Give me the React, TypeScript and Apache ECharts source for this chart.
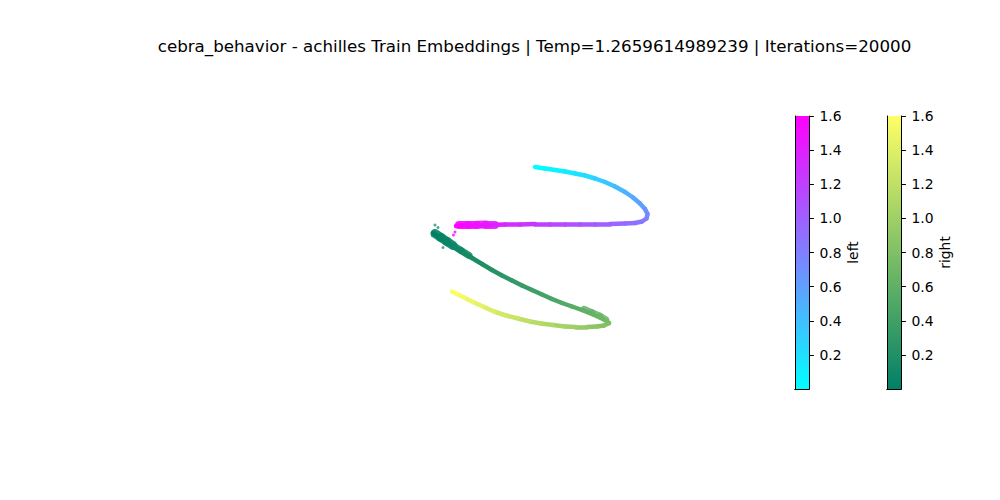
import React, { useEffect, useRef } from "react";
import * as echarts from "echarts";

const TITLE =
  "cebra_behavior - achilles Train Embeddings | Temp=1.2659614989239 | Iterations=20000";

const COLORBAR_MIN = 0;
const COLORBAR_MAX = 1.6;
const COLORBAR_TICKS = [0.2, 0.4, 0.6, 0.8, 1.0, 1.2, 1.4, 1.6];
const LEFT_LABEL = "left";
const RIGHT_LABEL = "right";

// "left" trajectory (projected embedding), coloured by position (cool colormap)
const leftX = [535, 545, 555, 565, 575, 585, 595, 605, 615, 625, 633, 640, 645, 647.5, 646.5, 642, 635, 625, 610, 595, 580, 565, 550, 535, 520, 505, 490, 478, 468, 460, 456];
const leftY = [167, 168.5, 170, 171.5, 173.5, 175.5, 178.5, 182, 186.5, 192, 197.5, 203.5, 209, 214, 218.5, 221.5, 223, 223.5, 224, 224, 224, 224, 224, 224, 224.5, 224.5, 225, 225, 225, 225.5, 226];
const leftValue = [0.0, 0.03, 0.07, 0.11, 0.16, 0.21, 0.27, 0.33, 0.4, 0.46, 0.52, 0.58, 0.64, 0.7, 0.77, 0.84, 0.88, 0.92, 0.98, 1.03, 1.07, 1.12, 1.17, 1.22, 1.28, 1.35, 1.42, 1.48, 1.53, 1.57, 1.6];

// "right" trajectory, coloured by position (summer colormap)
const rightX = [433, 440, 447, 455, 463, 472, 482, 492, 502, 512, 522, 532, 542, 552, 562, 572, 582, 592, 600, 606, 609, 604, 597, 587, 576, 565, 553, 541, 530, 518, 506, 494, 483, 473, 464, 457, 452];
const rightY = [233, 237.5, 242, 247.5, 252.5, 258, 264, 270, 275.5, 280.5, 285.5, 290, 294.5, 299, 303, 306.5, 310, 314, 317.5, 320.5, 323, 325.5, 326.5, 327, 327, 326.5, 325, 323.5, 321.5, 318.5, 315.5, 311.5, 306.5, 302, 297.5, 294, 291.5];
const rightValue = [0.0, 0.02, 0.05, 0.08, 0.11, 0.14, 0.18, 0.22, 0.26, 0.3, 0.34, 0.38, 0.42, 0.46, 0.5, 0.54, 0.58, 0.62, 0.66, 0.7, 0.75, 0.81, 0.86, 0.91, 0.97, 1.02, 1.07, 1.12, 1.17, 1.23, 1.29, 1.35, 1.41, 1.46, 1.51, 1.56, 1.6];

// denser (wider) stretches of the point clouds
const leftDenseX = [459, 468, 477, 486, 495];
const leftDenseY = [225.2, 225, 224.8, 224.6, 224.5];
const leftDenseValue = [1.6, 1.55, 1.5, 1.45, 1.4];

const rightDenseX = [435, 441, 447, 453];
const rightDenseY = [233.5, 237.5, 241.5, 245.5];
const rightDenseValue = [0.0, 0.02, 0.05, 0.07];

const rightDense2X = [453, 461, 469];
const rightDense2Y = [245.5, 250.5, 255.5];
const rightDense2Value = [0.07, 0.1, 0.13];

const rightTipX = [584, 592, 600, 606];
const rightTipY = [309, 312.5, 316, 319.5];
const rightTipValue = [0.58, 0.62, 0.66, 0.7];

// stray points
const leftStrayX = [455, 453.5];
const leftStrayY = [232, 235];
const leftStrayValue = [1.6, 1.6];
const rightStrayX = [435, 438, 443];
const rightStrayY = [225, 227.5, 247.5];
const rightStrayValue = [0.0, 0.01, 0.05];

const FONT = "DejaVu Sans";

function cool(v: number): string {
  const t = Math.max(0, Math.min(1, (v - COLORBAR_MIN) / (COLORBAR_MAX - COLORBAR_MIN)));
  return `rgb(${Math.round(255 * t)},${Math.round(255 * (1 - t))},255)`;
}
function summer(v: number): string {
  const t = Math.max(0, Math.min(1, (v - COLORBAR_MIN) / (COLORBAR_MAX - COLORBAR_MIN)));
  return `rgb(${Math.round(255 * t)},${Math.round(255 * (0.5 + 0.5 * t))},102)`;
}

function segments(xs: number[], ys: number[], vs: number[], cmap: (v: number) => string) {
  const out: any[] = [];
  for (let i = 0; i < xs.length - 1; i++) {
    out.push({
      coords: [
        [xs[i], ys[i]],
        [xs[i + 1], ys[i + 1]],
      ],
      lineStyle: { color: cmap((vs[i] + vs[i + 1]) / 2) },
    });
  }
  return out;
}

function cloud(xs: number[], ys: number[], vs: number[]) {
  return xs.map((x, i) => [x, ys[i], vs[i]]);
}

function linesSeries(xs: number[], ys: number[], vs: number[], cmap: (v: number) => string, width: number, opacity: number, z: number) {
  return {
    type: "lines",
    coordinateSystem: "cartesian2d",
    xAxisIndex: 0,
    yAxisIndex: 0,
    data: segments(xs, ys, vs, cmap),
    lineStyle: { width, cap: "round", join: "round", opacity },
    silent: true,
    z,
  };
}

function colorbarAxes(gridIndex: number, name: string) {
  const line = { show: true, lineStyle: { color: "#000", width: 1 } };
  const xAxes = [
    { gridIndex, type: "category", data: [""], position: "bottom", axisLine: line, axisTick: { show: false }, axisLabel: { show: false }, splitLine: { show: false }, z: 10 },
    { gridIndex, type: "category", data: [""], position: "top", axisLine: line, axisTick: { show: false }, axisLabel: { show: false }, splitLine: { show: false }, z: 10 },
  ];
  const yAxes = [
    {
      gridIndex,
      type: "value",
      min: COLORBAR_MIN,
      max: COLORBAR_MAX,
      position: "right",
      axisLine: line,
      axisTick: { show: true, length: 4.9, inside: false, lineStyle: { color: "#000", width: 1 }, customValues: COLORBAR_TICKS },
      axisLabel: {
        show: true,
        customValues: COLORBAR_TICKS,
        formatter: (v: number) => v.toFixed(1),
        margin: 10.5,
        color: "#000",
        fontFamily: FONT,
        fontSize: 13.9,
      },
      splitLine: { show: false },
      name,
      nameLocation: "middle",
      nameGap: 37,
      nameTextStyle: { color: "#000", fontFamily: FONT, fontSize: 13.9 },
      z: 10,
    },
    { gridIndex, type: "value", min: COLORBAR_MIN, max: COLORBAR_MAX, position: "left", axisLine: line, axisTick: { show: false }, axisLabel: { show: false }, splitLine: { show: false }, z: 10 },
  ];
  return { xAxes, yAxes };
}

export default function App() {
  const ref = useRef<HTMLDivElement>(null);
  useEffect(() => {
    document.body.style.margin = "0";
    if (!ref.current) return;
    const chart = echarts.init(ref.current, undefined, { renderer: "svg" });
    const cb1 = colorbarAxes(1, LEFT_LABEL);
    const cb2 = colorbarAxes(2, RIGHT_LABEL);

    const option: any = {
      animation: false,
      backgroundColor: "#fff",
      textStyle: { fontFamily: FONT },
      graphic: [
        {
          type: "text",
          x: 534.5,
          y: 46,
          style: {
            text: TITLE,
            fontFamily: FONT,
            fontSize: 16.7,
            fill: "#000",
            textAlign: "center",
            textVerticalAlign: "middle",
          },
        },
      ],
      grid: [
        { left: 0, top: 0, width: 1000, height: 500, show: false },
        { left: 795, top: 116, width: 14, height: 273, show: false },
        { left: 887, top: 116, width: 14, height: 273, show: false },
      ],
      xAxis: [
        { gridIndex: 0, type: "value", min: 0, max: 1000, show: false },
        ...cb1.xAxes,
        ...cb2.xAxes,
      ],
      yAxis: [
        { gridIndex: 0, type: "value", min: 0, max: 500, inverse: true, show: false },
        ...cb1.yAxes,
        ...cb2.yAxes,
      ],
      series: [
        {
          type: "bar",
          xAxisIndex: 1,
          yAxisIndex: 1,
          data: [COLORBAR_MAX],
          barWidth: "100%",
          itemStyle: {
            color: new echarts.graphic.LinearGradient(0, 1, 0, 0, [
              { offset: 0, color: cool(COLORBAR_MIN) },
              { offset: 1, color: cool(COLORBAR_MAX) },
            ]),
          },
          silent: true,
        },
        {
          type: "bar",
          xAxisIndex: 3,
          yAxisIndex: 3,
          data: [COLORBAR_MAX],
          barWidth: "100%",
          itemStyle: {
            color: new echarts.graphic.LinearGradient(0, 1, 0, 0, [
              { offset: 0, color: summer(COLORBAR_MIN) },
              { offset: 1, color: summer(COLORBAR_MAX) },
            ]),
          },
          silent: true,
        },
        linesSeries(leftDenseX, leftDenseY, leftDenseValue, cool, 8, 0.9, 1),
        linesSeries(rightDenseX, rightDenseY, rightDenseValue, summer, 9, 0.9, 1),
        linesSeries(rightDense2X, rightDense2Y, rightDense2Value, summer, 7, 0.9, 1),
        linesSeries(rightTipX, rightTipY, rightTipValue, summer, 6.5, 0.85, 1),
        linesSeries(leftX, leftY, leftValue, cool, 4.5, 1, 2),
        linesSeries(rightX, rightY, rightValue, summer, 4.5, 1, 2),
        {
          type: "scatter",
          xAxisIndex: 0,
          yAxisIndex: 0,
          data: cloud(leftStrayX, leftStrayY, leftStrayValue),
          symbolSize: 3,
          itemStyle: { color: (p: any) => cool(p.value[2]), opacity: 0.8 },
          silent: true,
        },
        {
          type: "scatter",
          xAxisIndex: 0,
          yAxisIndex: 0,
          data: cloud(rightStrayX, rightStrayY, rightStrayValue),
          symbolSize: 3,
          itemStyle: { color: (p: any) => summer(p.value[2]), opacity: 0.7 },
          silent: true,
        },
      ],
    };
    chart.setOption(option);
    return () => chart.dispose();
  }, []);
  return <div ref={ref} style={{ width: 1000, height: 500 }} />;
}
